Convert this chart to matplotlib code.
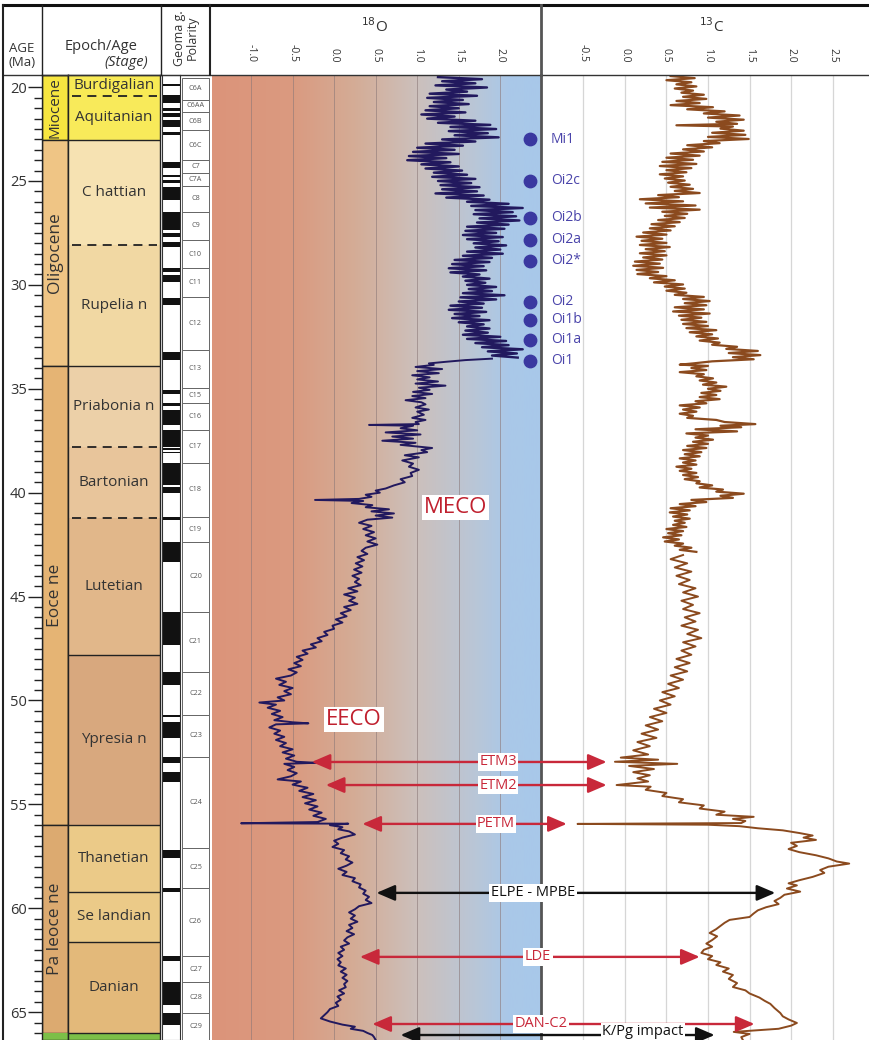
import numpy as np
import matplotlib
matplotlib.use("Agg")
import matplotlib.pyplot as plt
from matplotlib.patches import ConnectionPatch, Rectangle
from matplotlib.colors import LinearSegmentedColormap
from matplotlib.transforms import blended_transform_factory

plt.rcParams['font.family'] = ['Open Sans', 'DejaVu Sans']
plt.rcParams['axes.unicode_minus'] = False

# ---------------- DATA ----------------
# benthic d18O readings (age Ma, permil)
d18o_oligo_miocene = [
    (20.0, 1.25), (20.1, 1.78), (20.2, 1.30), (20.3, 1.70), (20.4, 1.22), (20.5, 1.84), (20.6, 1.35), (20.7, 1.60), (20.8, 1.15), (20.9, 1.72),
    (21.0, 1.12), (21.1, 1.55), (21.2, 1.20), (21.3, 1.62), (21.4, 1.15), (21.5, 1.50), (21.6, 1.10), (21.7, 1.58), (21.8, 1.05), (21.9, 1.45),
    (22.0, 1.12), (22.1, 1.70), (22.2, 1.25), (22.3, 1.88), (22.4, 1.40), (22.5, 1.95), (22.6, 1.38), (22.7, 1.85), (22.8, 1.45), (22.9, 1.98),
    (23.0, 1.30), (23.1, 1.70), (23.2, 1.10), (23.3, 1.55), (23.4, 1.00), (23.5, 1.45), (23.6, 0.95), (23.7, 1.50), (23.8, 0.90), (23.9, 1.35),
    (24.0, 0.88), (24.1, 1.40), (24.2, 1.05), (24.3, 1.50), (24.4, 1.10), (24.5, 1.54), (24.6, 1.20), (24.7, 1.60), (24.8, 1.18), (24.9, 1.70),
    (25.0, 1.25), (25.1, 1.65), (25.2, 1.28), (25.3, 1.75), (25.4, 1.30), (25.5, 1.72), (25.6, 1.22), (25.7, 1.80), (25.8, 1.35), (25.9, 1.87),
    (26.0, 1.60), (26.1, 2.10), (26.2, 1.65), (26.3, 2.27), (26.4, 1.70), (26.5, 2.15), (26.6, 1.68), (26.7, 2.19), (26.8, 1.75), (26.9, 2.23),
    (27.0, 1.72), (27.1, 2.10), (27.2, 1.60), (27.3, 2.05), (27.4, 1.58), (27.5, 1.95), (27.6, 1.55), (27.7, 2.03), (27.8, 1.60), (27.9, 1.98),
    (28.0, 1.68), (28.1, 2.07), (28.2, 1.70), (28.3, 2.00), (28.4, 1.60), (28.5, 2.03), (28.6, 1.55), (28.7, 1.90), (28.8, 1.45), (28.9, 1.87),
    (29.0, 1.42), (29.1, 1.80), (29.2, 1.38), (29.3, 1.83), (29.4, 1.40), (29.5, 1.75), (29.6, 1.55), (29.7, 1.87), (29.8, 1.58), (29.9, 1.82),
    (30.0, 1.60), (30.1, 1.95), (30.2, 1.62), (30.3, 1.90), (30.4, 1.55), (30.5, 2.05), (30.6, 1.52), (30.7, 1.95), (30.8, 1.50), (30.9, 1.80),
    (31.0, 1.40), (31.1, 1.78), (31.2, 1.38), (31.3, 1.83), (31.4, 1.45), (31.5, 1.75), (31.6, 1.42), (31.7, 1.87), (31.8, 1.50), (31.9, 1.80),
    (32.0, 1.60), (32.1, 1.87), (32.2, 1.58), (32.3, 1.85), (32.4, 1.55), (32.5, 2.00), (32.6, 1.60), (32.7, 2.07), (32.8, 1.70), (32.9, 2.10),
    (33.0, 1.78), (33.1, 2.27), (33.2, 1.85), (33.3, 2.20), (33.4, 1.90), (33.5, 2.21),
]
d18o_eocene_paleocene = [
    (33.55, 1.90), (33.62, 1.58), (33.70, 1.35), (33.78, 1.14), (33.85, 1.20), (33.95, 0.98), (34.05, 1.30), (34.15, 1.00), (34.25, 1.26), (34.35, 0.94),
    (34.45, 1.15), (34.55, 1.00), (34.65, 1.25), (34.75, 0.98), (34.85, 1.34), (34.95, 1.02), (35.05, 1.15), (35.15, 0.95), (35.25, 1.18), (35.35, 0.94),
    (35.45, 1.10), (35.55, 0.86), (35.65, 1.05), (35.75, 1.10), (35.90, 0.98), (36.00, 1.14), (36.10, 1.00), (36.25, 1.08), (36.40, 0.94), (36.50, 1.10),
    (36.60, 0.98), (36.70, 1.02), (36.74, 0.42), (36.78, 0.95), (36.90, 0.80), (37.00, 1.00), (37.10, 0.62), (37.20, 1.04), (37.30, 0.70), (37.40, 0.95),
    (37.50, 0.58), (37.60, 0.98), (37.70, 0.80), (37.85, 1.18), (37.95, 1.05), (38.05, 1.12), (38.20, 0.85), (38.30, 1.02), (38.45, 0.82), (38.60, 0.95),
    (38.75, 0.90), (38.90, 1.02), (39.05, 0.92), (39.20, 0.94), (39.35, 0.80), (39.50, 0.85), (39.65, 0.72), (39.80, 0.62), (39.90, 0.50), (40.00, 0.55),
    (40.10, 0.38), (40.20, 0.45), (40.30, 0.30), (40.35, -0.23), (40.40, 0.35), (40.50, 0.21), (40.60, 0.46), (40.70, 0.38), (40.80, 0.66), (40.90, 0.45),
    (41.00, 0.72), (41.10, 0.50), (41.20, 0.70), (41.30, 0.40), (41.45, 0.30), (41.60, 0.45), (41.75, 0.35), (41.90, 0.48), (42.05, 0.38), (42.20, 0.50),
    (42.35, 0.40), (42.50, 0.52), (42.65, 0.38), (42.80, 0.33), (42.95, 0.40), (43.10, 0.28), (43.25, 0.36), (43.40, 0.26), (43.55, 0.34), (43.70, 0.24),
    (43.85, 0.33), (44.00, 0.22), (44.15, 0.30), (44.30, 0.25), (44.45, 0.32), (44.60, 0.17), (44.75, 0.28), (44.90, 0.12), (45.05, 0.25), (45.20, 0.18),
    (45.35, 0.28), (45.50, 0.12), (45.65, 0.20), (45.80, 0.08), (45.95, 0.15), (46.10, 0.02), (46.25, 0.10), (46.40, -0.02), (46.55, 0.00), (46.70, -0.12),
    (46.85, -0.08), (47.00, -0.20), (47.15, -0.15), (47.30, -0.28), (47.45, -0.22), (47.60, -0.38), (47.75, -0.32), (47.90, -0.45), (48.05, -0.38), (48.20, -0.48),
    (48.35, -0.40), (48.50, -0.55), (48.65, -0.45), (48.80, -0.52), (48.95, -0.70), (49.10, -0.58), (49.25, -0.66), (49.40, -0.50), (49.55, -0.60), (49.70, -0.52),
    (49.85, -0.68), (50.00, -0.60), (50.10, -0.90), (50.20, -0.70), (50.35, -0.80), (50.50, -0.65), (50.65, -0.75), (50.80, -0.62), (50.95, -0.72), (51.05, -0.50),
    (51.10, -0.31), (51.15, -0.70), (51.30, -0.78), (51.45, -0.65), (51.60, -0.72), (51.75, -0.60), (51.90, -0.70), (52.05, -0.58), (52.20, -0.65), (52.35, -0.50),
    (52.50, -0.62), (52.65, -0.48), (52.80, -0.58), (52.95, -0.45), (53.00, -0.22), (53.05, -0.60), (53.20, -0.48), (53.35, -0.56), (53.50, -0.45), (53.65, -0.52),
    (53.80, -0.68), (53.90, -0.40), (54.05, -0.50), (54.20, -0.32), (54.35, -0.42), (54.50, -0.25), (54.65, -0.38), (54.80, -0.22), (54.95, -0.35), (55.10, -0.20),
    (55.25, -0.30), (55.40, -0.15), (55.55, -0.25), (55.70, -0.10), (55.85, -0.20), (55.91, -1.12), (55.93, 0.17), (56.00, -0.05), (56.10, 0.10), (56.20, 0.05),
    (56.30, 0.18), (56.45, 0.25), (56.60, 0.10), (56.75, 0.00), (56.90, 0.05), (57.05, -0.02), (57.20, 0.12), (57.35, 0.08), (57.50, 0.18), (57.65, 0.14),
    (57.80, 0.22), (57.95, 0.15), (58.10, 0.05), (58.25, 0.15), (58.40, 0.10), (58.55, 0.25), (58.70, 0.22), (58.85, 0.32), (59.00, 0.30), (59.15, 0.38),
    (59.30, 0.35), (59.45, 0.42), (59.60, 0.38), (59.75, 0.45), (59.90, 0.30), (60.05, 0.25), (60.20, 0.18), (60.35, 0.25), (60.50, 0.20), (60.65, 0.28),
    (60.80, 0.18), (60.95, 0.22), (61.10, 0.15), (61.25, 0.24), (61.40, 0.16), (61.55, 0.12), (61.70, 0.18), (61.85, 0.08), (62.00, 0.12), (62.15, 0.05),
    (62.30, 0.10), (62.45, 0.04), (62.60, 0.08), (62.75, 0.05), (62.90, 0.14), (63.05, 0.08), (63.20, 0.15), (63.35, 0.10), (63.50, 0.16), (63.65, 0.12),
    (63.80, 0.14), (63.95, 0.06), (64.10, 0.12), (64.25, 0.04), (64.40, 0.08), (64.55, 0.02), (64.70, 0.05), (64.85, -0.05), (65.00, -0.08), (65.15, -0.12),
    (65.30, -0.16), (65.45, -0.05), (65.60, 0.10), (65.70, 0.25), (65.80, 0.20), (65.90, 0.35), (66.00, 0.40), (66.10, 0.46), (66.20, 0.48), (66.34, 0.50),
]
# benthic d13C readings (age Ma, permil)
d13c_oligo_miocene = [
    (19.95, 0.55), (20.05, 0.84), (20.15, 0.50), (20.25, 0.80), (20.35, 0.62), (20.45, 0.86), (20.55, 0.60), (20.65, 0.82), (20.75, 0.68), (20.85, 0.95),
    (20.95, 0.70), (21.05, 0.98), (21.15, 0.62), (21.25, 0.90), (21.35, 0.55), (21.45, 1.06), (21.55, 0.75), (21.65, 1.20), (21.75, 0.95), (21.85, 1.38),
    (21.95, 1.00), (22.05, 1.43), (22.15, 1.10), (22.25, 1.35), (22.32, 0.62), (22.38, 1.30), (22.48, 1.15), (22.58, 1.43), (22.68, 1.05), (22.78, 1.45),
    (22.88, 1.00), (22.98, 1.49), (23.08, 0.95), (23.18, 1.14), (23.28, 0.75), (23.38, 1.05), (23.48, 0.70), (23.58, 0.95), (23.68, 0.55), (23.78, 0.90),
    (23.88, 0.50), (23.98, 0.82), (24.08, 0.45), (24.18, 0.86), (24.28, 0.42), (24.38, 0.80), (24.48, 0.50), (24.58, 0.74), (24.68, 0.42), (24.78, 0.70),
    (24.88, 0.48), (24.98, 0.72), (25.08, 0.52), (25.18, 0.78), (25.28, 0.55), (25.38, 0.82), (25.48, 0.60), (25.58, 0.90), (25.68, 0.40), (25.78, 0.65),
    (25.88, 0.18), (25.98, 0.70), (26.08, 0.25), (26.18, 0.85), (26.28, 0.30), (26.38, 0.90), (26.48, 0.45), (26.58, 0.75), (26.68, 0.48), (26.78, 0.72),
    (26.88, 0.40), (26.98, 0.66), (27.08, 0.32), (27.18, 0.60), (27.28, 0.30), (27.38, 0.55), (27.48, 0.22), (27.58, 0.50), (27.68, 0.14), (27.78, 0.45),
    (27.88, 0.20), (27.98, 0.50), (28.08, 0.18), (28.18, 0.54), (28.28, 0.25), (28.38, 0.48), (28.48, 0.18), (28.58, 0.50), (28.68, 0.22), (28.78, 0.45),
    (28.88, 0.12), (28.98, 0.42), (29.08, 0.10), (29.18, 0.46), (29.28, 0.14), (29.38, 0.40), (29.48, 0.15), (29.58, 0.50), (29.68, 0.30), (29.78, 0.60),
    (29.88, 0.35), (29.98, 0.70), (30.08, 0.48), (30.18, 0.72), (30.28, 0.50), (30.38, 0.74), (30.48, 0.60), (30.58, 0.95), (30.68, 0.70), (30.78, 1.02),
    (30.88, 0.72), (30.98, 0.98), (31.08, 0.60), (31.18, 0.95), (31.28, 0.58), (31.38, 1.02), (31.48, 0.65), (31.58, 0.92), (31.68, 0.68), (31.78, 0.98),
    (31.88, 0.70), (31.98, 1.00), (32.08, 0.74), (32.18, 1.10), (32.28, 0.78), (32.38, 1.05), (32.48, 0.86), (32.58, 1.12), (32.68, 0.90), (32.78, 1.14),
    (32.88, 1.05), (32.98, 1.35), (33.08, 1.22), (33.18, 1.60), (33.28, 1.25), (33.38, 1.63), (33.48, 1.30), (33.58, 1.55), (33.68, 1.05), (33.78, 0.82),
    (33.84, 0.66), (33.90, 1.00), (34.00, 0.80), (34.10, 0.98), (34.20, 0.66), (34.30, 0.95), (34.40, 0.86), (34.50, 1.06), (34.60, 0.90), (34.70, 1.10),
    (34.80, 0.94), (34.90, 1.22), (35.00, 1.00), (35.10, 1.15), (35.20, 0.92), (35.30, 1.10), (35.40, 0.90), (35.50, 1.14), (35.60, 0.85), (35.70, 0.98),
    (35.80, 0.66), (35.90, 0.90), (36.00, 0.70), (36.10, 0.86), (36.20, 0.66), (36.30, 0.82), (36.40, 0.75), (36.50, 1.10), (36.60, 1.20), (36.70, 1.57),
    (36.78, 1.15), (36.85, 1.40), (36.95, 0.85), (37.05, 1.35), (37.15, 0.74), (37.25, 1.00), (37.35, 0.85), (37.45, 1.06), (37.55, 0.82), (37.65, 1.00),
    (37.75, 0.75), (37.85, 0.98), (37.95, 0.70), (38.05, 0.92), (38.15, 0.72), (38.25, 0.90), (38.35, 0.66), (38.45, 0.85), (38.55, 0.70), (38.65, 0.86),
    (38.75, 0.62), (38.85, 0.80), (38.95, 0.66), (39.05, 0.86), (39.15, 0.70), (39.25, 0.88), (39.35, 0.72), (39.45, 0.90), (39.55, 0.86), (39.65, 1.05),
    (39.75, 0.90), (39.85, 1.18), (39.95, 1.10), (40.05, 1.43), (40.15, 1.15), (40.25, 1.30), (40.35, 0.80), (40.45, 0.98), (40.55, 0.66), (40.65, 0.85),
    (40.75, 0.55), (40.85, 0.78), (40.95, 0.54), (41.05, 0.75), (41.15, 0.58), (41.25, 0.78), (41.35, 0.60), (41.45, 0.72), (41.55, 0.58), (41.65, 0.74),
    (41.75, 0.50), (41.85, 0.70), (41.95, 0.52), (42.05, 0.68), (42.15, 0.46), (42.25, 0.65), (42.35, 0.48), (42.45, 0.70), (42.55, 0.60), (42.65, 0.80),
    (42.75, 0.66), (42.85, 0.86),
]
d13c_eocene_paleocene = [
    (43.0, 0.70), (43.2, 0.55), (43.4, 0.75), (43.6, 0.60), (43.8, 0.80), (44.0, 0.62), (44.2, 0.78), (44.4, 0.65), (44.6, 0.85), (44.8, 0.70),
    (45.0, 0.88), (45.2, 0.68), (45.4, 0.82), (45.6, 0.70), (45.8, 0.90), (46.0, 0.72), (46.2, 0.85), (46.4, 0.68), (46.6, 0.88), (46.8, 0.75),
    (47.0, 0.92), (47.2, 0.70), (47.4, 0.85), (47.6, 0.68), (47.8, 0.80), (48.0, 0.62), (48.2, 0.78), (48.4, 0.60), (48.6, 0.75), (48.8, 0.55),
    (49.0, 0.70), (49.2, 0.52), (49.4, 0.65), (49.6, 0.45), (49.8, 0.60), (50.0, 0.42), (50.2, 0.55), (50.4, 0.35), (50.6, 0.50), (50.8, 0.30),
    (51.0, 0.45), (51.2, 0.25), (51.4, 0.40), (51.6, 0.20), (51.8, 0.38), (52.0, 0.15), (52.2, 0.30), (52.4, 0.10), (52.6, 0.28), (52.75, -0.05),
    (52.85, 0.40), (52.95, -0.12), (53.05, 0.63), (53.15, 0.05), (53.30, 0.35), (53.45, 0.10), (53.60, 0.30), (53.75, 0.15), (53.90, 0.28), (54.00, 0.05),
    (54.07, -0.10), (54.15, 0.31), (54.30, 0.25), (54.45, 0.50), (54.60, 0.45), (54.75, 0.70), (54.90, 0.65), (55.05, 0.95), (55.20, 0.90), (55.35, 1.20),
    (55.50, 1.10), (55.60, 1.55), (55.70, 1.30), (55.80, 1.45), (55.90, 1.40), (55.94, -0.57), (55.98, 1.00), (56.05, 1.38), (56.15, 1.60), (56.25, 1.90),
    (56.38, 2.10), (56.50, 2.26), (56.60, 2.15), (56.71, 2.30), (56.85, 2.00), (57.00, 2.07), (57.15, 1.97), (57.30, 2.10), (57.45, 2.30), (57.60, 2.45),
    (57.75, 2.55), (57.85, 2.70), (58.00, 2.45), (58.16, 2.35), (58.30, 2.40), (58.49, 2.26), (58.65, 2.10), (58.80, 1.97), (58.90, 2.07), (59.05, 1.95),
    (59.20, 2.11), (59.35, 1.92), (59.50, 1.87), (59.65, 1.80), (59.80, 1.85), (59.95, 1.70), (60.10, 1.60), (60.25, 1.55), (60.42, 1.50), (60.56, 1.26),
    (60.70, 1.20), (60.85, 1.15), (61.00, 1.10), (61.19, 1.02), (61.35, 1.11), (61.53, 1.05), (61.70, 0.98), (61.85, 1.05), (62.00, 0.95), (62.15, 0.92),
    (62.30, 1.05), (62.45, 1.00), (62.60, 1.15), (62.73, 1.10), (62.90, 1.25), (63.05, 1.18), (63.21, 1.30), (63.40, 1.25), (63.60, 1.35), (63.79, 1.30),
    (63.95, 1.45), (64.10, 1.50), (64.30, 1.62), (64.45, 1.68), (64.60, 1.75), (64.80, 1.80), (65.04, 1.87), (65.20, 1.90), (65.35, 1.97), (65.52, 2.07),
    (65.65, 2.00), (65.80, 1.85), (65.95, 1.31), (66.05, 1.50), (66.20, 1.40), (66.34, 1.42),
]

# Epochs
epoch_names = ['Miocene', 'Oligocene', 'Eoce ne', 'Pa leoce ne']
epoch_top = [19.90, 23.03, 33.90, 56.00]
epoch_base = [23.03, 33.90, 56.00, 66.00]
epoch_colors = ['#f7e640', '#efc585', '#e5b474', '#dcaa70']
epoch_fontsize = [11, 12.5, 12.5, 12.5]

# Stages
stage_names = ['Burdigalian', 'Aquitanian', 'C hattian', 'Rupelia n', 'Priabonia n', 'Bartonian',
               'Lutetian', 'Ypresia n', 'Thanetian', 'Se landian', 'Danian']
stage_top = [19.90, 20.90, 23.03, 28.10, 33.90, 37.80, 41.20, 47.80, 56.00, 59.20, 61.60]
stage_base = [20.90, 23.03, 28.10, 33.90, 37.80, 41.20, 47.80, 56.00, 59.20, 61.60, 66.00]
stage_colors = ['#f8ea55', '#f8ea5a', '#f6e2b2', '#f1d8a3', '#ecd0a8', '#e8c59b',
                '#e1b78a', '#d8a87e', '#ebca88', '#ebca88', '#e3b97a']
dashed_bounds = [20.90, 28.10, 37.80, 41.20]
solid_bounds = [23.03, 33.90, 47.80, 56.00, 59.20, 61.60, 66.00]
cretaceous_top = 66.00

# Magnetic polarity chrons
chron_names = ['C6A', 'C6AA', 'C6B', 'C6C', 'C7', 'C7A', 'C8', 'C9', 'C10', 'C11', 'C12', 'C13', 'C15', 'C16',
               'C17', 'C18', 'C19', 'C20', 'C21', 'C22', 'C23', 'C24', 'C25', 'C26', 'C27', 'C28', 'C29']
chron_top = [20.04, 21.10, 21.68, 22.55, 23.99, 24.62, 25.24, 26.49, 27.84, 29.19, 30.58, 33.13, 34.96, 35.68,
             36.98, 38.57, 41.17, 42.37, 45.74, 48.63, 50.70, 52.72, 57.10, 59.02, 62.30, 63.55, 65.04]
chron_base = [21.10, 21.68, 22.55, 23.99, 24.62, 25.24, 26.49, 27.84, 29.19, 30.58, 33.13, 34.96, 35.68, 36.98,
              38.57, 41.17, 42.37, 45.74, 48.63, 50.70, 52.72, 57.10, 59.02, 62.30, 63.55, 65.04, 66.34]
normal_top = [20.33, 20.86, 21.49, 21.73, 22.06, 22.64, 24.09, 24.71, 24.95, 25.29, 26.49, 27.50, 27.94, 29.19,
              29.52, 30.63, 33.23, 35.06, 35.68, 36.02, 36.98, 37.85, 38.04, 38.57, 39.73, 41.17, 42.37, 45.74,
              48.63, 50.70, 51.04, 52.72, 53.44, 57.19, 59.02, 62.30, 63.55, 65.04]
normal_base = [20.43, 21.25, 21.63, 21.92, 22.40, 22.79, 24.37, 24.81, 25.10, 25.91, 27.36, 27.69, 28.18, 29.38,
               29.86, 30.97, 33.61, 35.25, 35.83, 36.74, 37.80, 37.94, 38.09, 39.63, 40.01, 41.31, 43.34, 47.33,
               49.25, 50.80, 51.81, 53.01, 53.92, 57.58, 59.21, 62.54, 64.65, 65.62]

# Oligocene/Miocene glaciation events
oi_names = ['Mi1', 'Oi2c', 'Oi2b', 'Oi2a', 'Oi2*', 'Oi2', 'Oi1b', 'Oi1a', 'Oi1']
oi_age = [22.98, 25.00, 26.78, 27.84, 28.85, 30.82, 31.69, 32.65, 33.66]

# Hyperthermal / cooling events (age, d18O extent, d13C extent)
event_names = ['ETM3', 'ETM2', 'PETM', 'ELPE - MPBE', 'LDE', 'DAN-C2', 'K/Pg impact']
event_age = [52.96, 54.07, 55.94, 59.26, 62.34, 65.57, 66.10]
event_d18o = [-0.27, -0.10, 0.34, 0.51, 0.31, 0.46, 0.80]
event_d13c = [-0.22, -0.22, -0.70, 1.81, 0.90, 1.56, 1.08]
event_color = ['#c8283a', '#c8283a', '#c8283a', '#111111', '#c8283a', '#c8283a', '#111111']

climate_names = ['MECO', 'EECO']
climate_age = [40.69, 50.94]
climate_d18o = [1.46, 0.24]

age_labels = ['20', '25', '30', '35', '40', '45', '50', '55', '60', '65']
d18o_ticks = [-1.0, -0.5, 0.0, 0.5, 1.0, 1.5, 2.0]
d13c_ticks = [-0.5, 0.0, 0.5, 1.0, 1.5, 2.0, 2.5]

# ---------------- LAYOUT ----------------
W, H = 870, 1040
TOP, BOT = 75, 1040
AGE_LIM = (66.34, 19.90)
fig = plt.figure(figsize=(W / 100, H / 100), dpi=100)
fig.patch.set_facecolor('white')


def px_axes(x0, x1, y0=TOP, y1=BOT):
    return fig.add_axes([x0 / W, 1 - y1 / H, (x1 - x0) / W, (y1 - y0) / H])


TXT = '#333333'

# --- epoch column (its left axis carries the age scale) ---
ax_ep = px_axes(42, 68)
ax_ep.set_xlim(0, 1)
ax_ep.set_ylim(*AGE_LIM)
ax_ep.bar([0.5] * len(epoch_names), np.subtract(epoch_base, epoch_top), bottom=epoch_top, width=1,
          color=epoch_colors, edgecolor='#222222', linewidth=1.0)
ax_ep.bar([0.5], [AGE_LIM[0] - cretaceous_top], bottom=[cretaceous_top], width=1, color='#7cbf48',
          edgecolor='none')
for n, t, b, fs in zip(epoch_names, epoch_top, epoch_base, epoch_fontsize):
    ax_ep.text(0.5, (t + b) / 2, n, rotation=90, ha='center', va='center', fontsize=fs, color=TXT)
ax_ep.set_xticks([])
major_pos = [20.5] + [25, 30, 35, 40, 45, 50, 55, 60, 65]
ax_ep.set_yticks(major_pos)
ax_ep.set_yticklabels(age_labels, fontsize=10.5, color=TXT)
ax_ep.set_yticks(np.arange(20.5, 66.1, 0.5), minor=True)
ax_ep.tick_params(axis='y', which='major', length=10, width=1.0, direction='out', pad=1, color='#222222')
ax_ep.tick_params(axis='y', which='minor', length=6, width=1.0, direction='out', color='#222222')
for s in ax_ep.spines.values():
    s.set_linewidth(1.0)
    s.set_color('#222222')

# --- stage column ---
ax_st = px_axes(68, 160)
ax_st.set_xlim(0, 1)
ax_st.set_ylim(*AGE_LIM)
ax_st.bar([0.5] * len(stage_names), np.subtract(stage_base, stage_top), bottom=stage_top, width=1,
          color=stage_colors, edgecolor='none')
ax_st.bar([0.5], [AGE_LIM[0] - cretaceous_top], bottom=[cretaceous_top], width=1, color='#7cbf48',
          edgecolor='none')
for yb in solid_bounds:
    ax_st.axhline(yb, color='#222222', lw=1.0)
for yb in dashed_bounds:
    ax_st.axhline(yb, xmin=0.04, xmax=0.97, color='#222222', lw=1.3, ls=(0, (5, 3.5)))
for n, t, b in zip(stage_names, stage_top, stage_base):
    ax_st.text(0.5, (t + b) / 2, n, ha='center', va='center', fontsize=11, color=TXT)
ax_st.set_xticks([])
ax_st.set_yticks([])
for s in ax_st.spines.values():
    s.set_linewidth(1.0)
    s.set_color('#222222')

# --- polarity column ---
ax_pol = px_axes(162, 180)
ax_pol.set_xlim(0, 1)
ax_pol.set_ylim(*AGE_LIM)
ax_pol.bar([0.5] * len(normal_top), np.subtract(normal_base, normal_top), bottom=normal_top, width=1,
           color='#111111', edgecolor='none')
ax_pol.set_xticks([])
ax_pol.set_yticks([])
for s in ax_pol.spines.values():
    s.set_linewidth(0.8)
    s.set_color('#333333')

# --- chron label column ---
ax_ch = px_axes(181, 210)
ax_ch.set_xlim(0, 1)
ax_ch.set_ylim(*AGE_LIM)
for n, t, b in zip(chron_names, chron_top, chron_base):
    ax_ch.add_patch(Rectangle((0.04, t), 0.92, b - t, facecolor='white', edgecolor='#666666', lw=0.7))
    ax_ch.text(0.5, (t + b) / 2, n, ha='center', va='center', fontsize=5.2, color='#555555')
ax_ch.axis('off')

# --- d18O panel ---
ax18 = px_axes(212, 541)
X18 = (-1.47, 2.49)
grad = LinearSegmentedColormap.from_list('grad', [
    (0.0, (220 / 255, 148 / 255, 122 / 255)),
    (0.245, (218 / 255, 154 / 255, 128 / 255)),
    (0.434, (212 / 255, 172 / 255, 150 / 255)),
    (0.624, (204 / 255, 192 / 255, 188 / 255)),
    (0.80, (185 / 255, 198 / 255, 215 / 255)),
    (0.902, (170 / 255, 200 / 255, 232 / 255)),
    (1.0, (168 / 255, 200 / 255, 234 / 255))])
ax18.imshow(np.linspace(0, 1, 512)[None, :], extent=[X18[0], X18[1], AGE_LIM[0], AGE_LIM[1]],
            aspect='auto', cmap=grad, zorder=0)
for xv in d18o_ticks:
    ax18.axvline(xv, color='#8c7878', lw=0.7, alpha=0.6, zorder=1)
a, v = zip(*d18o_oligo_miocene)
ax18.plot(v, a, color='#22195e', lw=1.7, zorder=3)
a, v = zip(*d18o_eocene_paleocene)
ax18.plot(v, a, color='#22195e', lw=1.4, zorder=3)
ax18.scatter([2.36] * len(oi_age), oi_age, s=80, color='#3a38a0', zorder=5, clip_on=False)
for n, a, x in zip(climate_names, climate_age, climate_d18o):
    ax18.text(x, a, n, ha='center', va='center', fontsize=16, color='#c0202e', zorder=6,
              bbox=dict(facecolor='white', edgecolor='none', pad=1.5))
ax18.set_xlim(*X18)
ax18.set_ylim(*AGE_LIM)
ax18.xaxis.tick_top()
ax18.set_xticks(d18o_ticks)
ax18.set_xticklabels(['%.1f' % t for t in d18o_ticks], rotation=270, fontsize=7.5, color=TXT)
ax18.tick_params(axis='x', length=0, pad=9)
ax18.set_yticks([])
for s in ax18.spines.values():
    s.set_visible(False)

# --- d13C panel ---
ax13 = px_axes(541, 870)
X13 = (-1.01, 2.95)
for xv in d13c_ticks:
    ax13.axvline(xv, color='#d6d6d6', lw=0.9, zorder=1)
a, v = zip(*d13c_oligo_miocene)
ax13.plot(v, a, color='#8b4a1e', lw=1.6, zorder=3)
a, v = zip(*d13c_eocene_paleocene)
ax13.plot(v, a, color='#8b4a1e', lw=1.4, zorder=3)
for n, a in zip(oi_names, oi_age):
    ax13.text(-0.89, a, n, ha='left', va='center', fontsize=10, color='#4a44aa')
ax13.set_xlim(*X13)
ax13.set_ylim(*AGE_LIM)
ax13.xaxis.tick_top()
ax13.set_xticks(d13c_ticks)
ax13.set_xticklabels(['%.1f' % t for t in d13c_ticks], rotation=270, fontsize=7.5, color=TXT)
ax13.tick_params(axis='x', length=0, pad=9)
ax13.set_yticks([])
for k, s in ax13.spines.items():
    s.set_visible(k == 'left')
ax13.spines['left'].set_color('#555555')
ax13.spines['left'].set_linewidth(2.0)

# --- event arrows spanning both panels ---
label_px = [498, 498, 496, 533, 538, 541, 643]
label_age_shift = [0, 0, 0, 0, 0, 0, -0.17]   # keep the last label inside the canvas
tr = blended_transform_factory(fig.transFigure, ax18.transData)
for n, a, x18, x13, c, lx, da in zip(event_names, event_age, event_d18o, event_d13c, event_color,
                                     label_px, label_age_shift):
    cp = ConnectionPatch(xyA=(x18, a), coordsA=ax18.transData, xyB=(x13, a), coordsB=ax13.transData,
                         arrowstyle='<|-|>,head_length=0.7,head_width=0.3', mutation_scale=16,
                         color=c, lw=1.7, shrinkA=0, shrinkB=0)
    fig.add_artist(cp)
    fig.text(lx / W, a + da, n, transform=tr, ha='center', va='center', fontsize=10.5, color=c,
             bbox=dict(facecolor='white', edgecolor='none', pad=1.0))

# --- header & frame overlay ---
ov = fig.add_axes([0, 0, 1, 1], facecolor='none')
ov.set_xlim(0, W)
ov.set_ylim(H, 0)
ov.axis('off')
ov.plot([3, 870], [5, 5], color='#111111', lw=2.2)
ov.plot([3, 870], [75, 75], color='#333333', lw=1.0)
ov.plot([3, 3], [5, 1040], color='#222222', lw=1.5)
ov.plot([42, 42], [5, 75], color='#222222', lw=1.0)
ov.plot([161, 161], [5, 75], color='#222222', lw=1.0)
ov.plot([210, 210], [5, 75], color='#222222', lw=1.5)
ov.plot([541, 541], [5, 75], color='#555555', lw=2.0)
ov.text(22, 48, 'AGE', ha='center', va='center', fontsize=9.5, color=TXT)
ov.text(22, 63, '(Ma)', ha='center', va='center', fontsize=9.5, color=TXT)
ov.text(101, 47, 'Epoch/Age', ha='center', va='center', fontsize=10.5, color=TXT)
ov.text(126, 62, '(Stage)', ha='center', va='center', fontsize=10.5, style='italic', color=TXT)
ov.text(186, 38, 'Geoma g.\nPolarity', ha='center', va='center', rotation=90, fontsize=9,
        linespacing=0.95, color=TXT)
ov.text(375, 27, r'$^{18}$O', ha='center', va='center', fontsize=11, color=TXT)
ov.text(712, 27, r'$^{13}$C', ha='center', va='center', fontsize=11, color=TXT)

fig.savefig('out.png', dpi=100, facecolor='white')
